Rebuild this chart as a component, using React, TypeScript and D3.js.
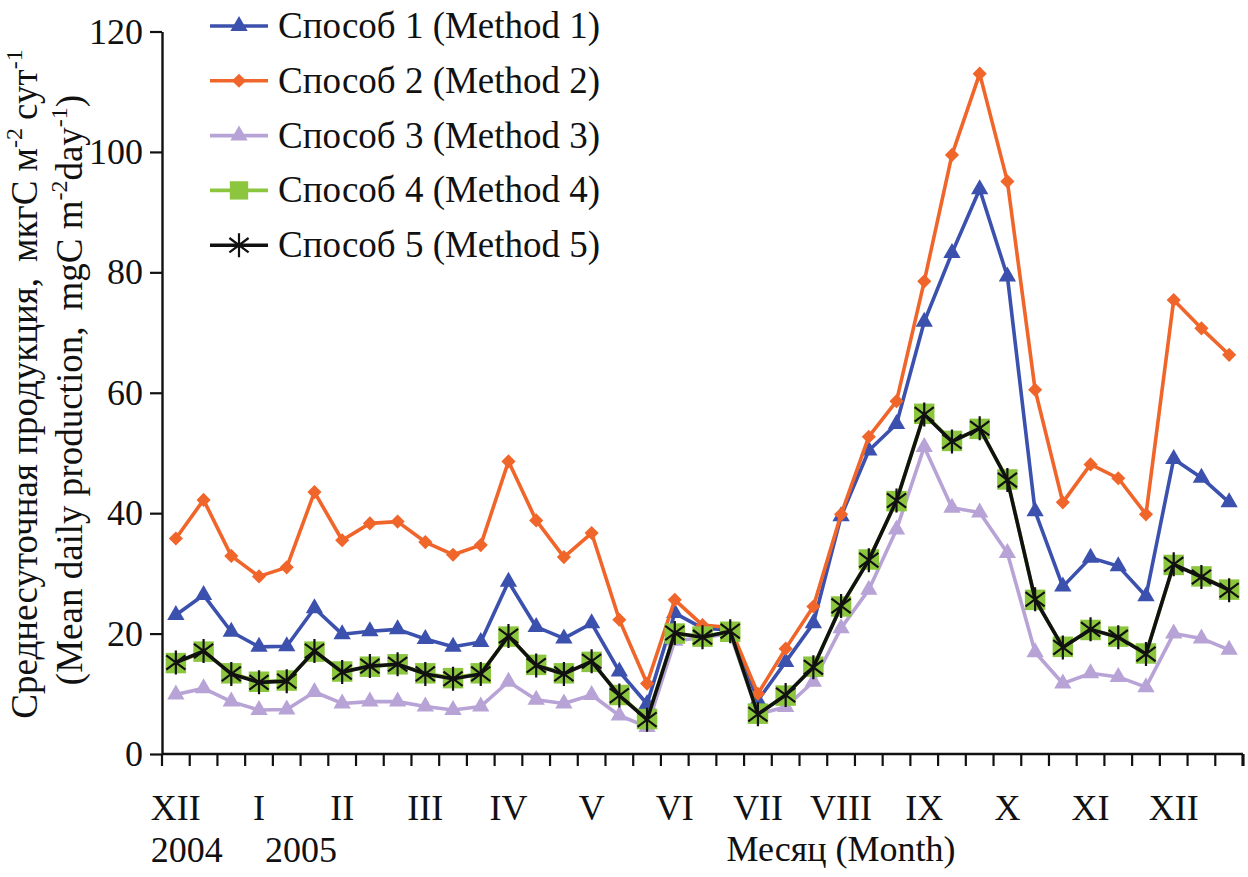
import React, { useEffect, useRef } from 'react';
import * as d3 from 'd3';

// month labels on the x axis (one label every 3 points: 3 decades per month)
const months = ['XII', 'I', 'II', 'III', 'IV', 'V', 'VI', 'VII', 'VIII', 'IX', 'X', 'XI', 'XII'];
const years = ['2004', '2005'];
const decades = ['1', '2', '3'];
const categories = months.flatMap((m, i) => decades.map(d => `${i}-${m}-${d}`));

const method1 = [23.1, 26.4, 20.3, 17.8, 17.9, 24.2, 19.9, 20.4, 20.7, 19.1, 17.8, 18.6, 28.6, 21.1, 19.2, 21.7,
  13.7, 8.3, 23.4, 20.9, 20.6, 8.9, 15.3, 21.7, 39.5, 50.4, 54.8, 71.8, 83.2, 93.8, 79.3, 40.3, 27.8, 32.6, 31.2,
  26.2, 49.0, 45.9, 41.8];
const method2 = [35.8, 42.2, 32.9, 29.5, 31.0, 43.5, 35.5, 38.3, 38.6, 35.2, 33.1, 34.7, 48.6, 38.8, 32.7, 36.7,
  22.3, 11.7, 25.6, 21.4, 21.0, 10.0, 17.5, 24.5, 39.8, 52.7, 58.6, 78.5, 99.5, 113.0, 95.1, 60.5, 41.8, 48.1, 45.8,
  39.8, 75.4, 70.7, 66.3];
const method3 = [9.9, 10.9, 8.7, 7.3, 7.4, 10.3, 8.4, 8.7, 8.7, 7.9, 7.3, 7.9, 12.0, 9.0, 8.4, 9.8,
  6.4, 4.5, 18.8, 19.3, 20.0, 6.6, 7.8, 12.0, 20.9, 27.3, 37.3, 51.0, 40.9, 40.1, 33.4, 16.9, 11.7, 13.4, 12.8,
  11.1, 20.0, 19.2, 17.3];
const method4 = [15.1, 17.0, 13.4, 12.0, 12.2, 17.0, 13.7, 14.5, 14.9, 13.4, 12.6, 13.4, 19.5, 14.8, 13.4, 15.3,
  9.8, 5.8, 20.0, 19.5, 20.3, 6.7, 9.7, 14.5, 24.5, 32.3, 42.0, 56.5, 52.0, 54.0, 45.6, 25.6, 17.8, 20.6, 19.5,
  16.7, 31.4, 29.5, 27.3];
const method5 = [15.2, 17.1, 13.3, 11.9, 12.1, 17.1, 13.6, 14.6, 14.9, 13.3, 12.5, 13.3, 19.6, 14.7, 13.3, 15.4,
  9.7, 5.7, 20.1, 19.4, 20.4, 6.6, 9.8, 14.4, 24.6, 32.2, 42.1, 56.4, 51.9, 54.1, 45.5, 25.7, 17.7, 20.7, 19.4,
  16.6, 31.5, 29.4, 27.2];

const legendNames = [
  'Способ 1 (Method 1)',
  'Способ 2 (Method 2)',
  'Способ 3 (Method 3)',
  'Способ 4 (Method 4)',
  'Способ 5 (Method 5)',
];
const yTicks = [0, 20, 40, 60, 80, 100, 120];

const series = [
  { name: legendNames[0], values: method1, color: '#3b51ad', marker: 'triangle' },
  { name: legendNames[1], values: method2, color: '#f0652a', marker: 'diamond' },
  { name: legendNames[2], values: method3, color: '#b8a3d6', marker: 'triangle' },
  { name: legendNames[3], values: method4, color: '#8cc63f', marker: 'square' },
  { name: legendNames[4], values: method5, color: '#111111', marker: 'asterisk' },
];

const FONT = '"Liberation Serif", "Times New Roman", serif';

const drawMarker = (g, type, color, x, y, scale = 1) => {
  if (type === 'triangle') {
    g.append('path')
      .attr('d', d3.symbol(d3.symbolTriangle, 130 * scale)())
      .attr('transform', `translate(${x},${y})`)
      .attr('fill', color);
  } else if (type === 'diamond') {
    g.append('path')
      .attr('d', d3.symbol(d3.symbolSquare, 100 * scale)())
      .attr('transform', `translate(${x},${y}) rotate(45)`)
      .attr('fill', color);
  } else if (type === 'square') {
    g.append('path')
      .attr('d', d3.symbol(d3.symbolSquare, 420 * scale)())
      .attr('transform', `translate(${x},${y})`)
      .attr('fill', color);
  } else {
    const r = 12 * Math.sqrt(scale);
    const a = r * 0.8;
    g.append('path')
      .attr('d', `M0,${-r}L0,${r}M${-a},${-a * 0.75}L${a},${a * 0.75}M${-a},${a * 0.75}L${a},${-a * 0.75}`)
      .attr('transform', `translate(${x},${y})`)
      .attr('stroke', color)
      .attr('stroke-width', 2.2)
      .attr('fill', 'none');
  }
};

const App = () => {
  const svgRef = useRef(null);

  useEffect(() => {
    document.body.style.margin = '0';
    const svg = d3.select(svgRef.current);
    svg.selectAll('*').remove();

    const left = 162;
    const right = 1243;
    const top = 31.5;
    const bottom = 754;

    const x = d3.scaleBand().domain(categories).range([left, right]).padding(0);
    const y = d3.scaleLinear().domain([0, 120]).range([bottom, top]);
    const cx = i => x(categories[i]) + x.bandwidth() / 2;

    // y axis
    const yAxis = d3.axisLeft(y).tickValues(yTicks).tickSize(12).tickPadding(7).tickSizeOuter(0);
    const gy = svg.append('g').attr('transform', `translate(${left},0)`).call(yAxis);
    gy.select('.domain').attr('stroke', '#111').attr('stroke-width', 2.4);
    gy.selectAll('.tick line').attr('stroke', '#111').attr('stroke-width', 2.2);
    gy.selectAll('.tick text')
      .style('font-family', FONT)
      .style('font-size', '36px')
      .attr('fill', '#111');

    // x axis line and ticks at band boundaries
    svg.append('line')
      .attr('x1', left).attr('x2', right)
      .attr('y1', bottom).attr('y2', bottom)
      .attr('stroke', '#111').attr('stroke-width', 2.4);
    svg.selectAll('.xtick')
      .data(d3.range(categories.length + 1))
      .join('line')
      .attr('class', 'xtick')
      .attr('x1', i => left + i * x.step())
      .attr('x2', i => left + i * x.step())
      .attr('y1', bottom)
      .attr('y2', bottom + 12)
      .attr('stroke', '#111')
      .attr('stroke-width', i => (i === categories.length ? 3.2 : 2.2));

    // month labels
    svg.selectAll('.month')
      .data(months)
      .join('text')
      .attr('class', 'month')
      .attr('x', (d, i) => cx(i * 3))
      .attr('y', 820)
      .attr('text-anchor', 'middle')
      .style('font-family', FONT)
      .style('font-size', '36px')
      .attr('fill', '#111')
      .text(d => d);

    svg.append('text')
      .attr('x', cx(0) - 25)
      .attr('y', 862)
      .style('font-family', FONT)
      .style('font-size', '36px')
      .attr('fill', '#111')
      .text(years[0]);
    svg.append('text')
      .attr('x', cx(3) + 6)
      .attr('y', 862)
      .style('font-family', FONT)
      .style('font-size', '36px')
      .attr('fill', '#111')
      .text(years[1]);

    svg.append('text')
      .attr('x', 841)
      .attr('y', 861)
      .attr('text-anchor', 'middle')
      .style('font-family', FONT)
      .style('font-size', '36px')
      .attr('fill', '#111')
      .text('Месяц (Month)');

    // y axis title, two rotated lines
    const yl1 = svg.append('text')
      .attr('transform', 'translate(37,384) rotate(-90)')
      .attr('text-anchor', 'middle')
      .style('font-family', FONT)
      .style('font-size', '37px')
      .attr('fill', '#111');
    yl1.append('tspan').text('Среднесуточная продукция,');
    yl1.append('tspan').attr('dx', 16).text('мкгС м');
    yl1.append('tspan').attr('dy', -15).style('font-size', '24px').text('-2');
    yl1.append('tspan').attr('dy', 15).attr('dx', 8).text('сут');
    yl1.append('tspan').attr('dy', -15).style('font-size', '24px').text('-1');

    const yl2 = svg.append('text')
      .attr('transform', 'translate(82,390) rotate(-90)')
      .attr('text-anchor', 'middle')
      .style('font-family', FONT)
      .style('font-size', '37px')
      .attr('fill', '#111');
    yl2.append('tspan').text('(Mean daily production,');
    yl2.append('tspan').attr('dx', 16).text('mgC m');
    yl2.append('tspan').attr('dy', -15).style('font-size', '24px').text('-2');
    yl2.append('tspan').attr('dy', 15).text('day');
    yl2.append('tspan').attr('dy', -15).style('font-size', '24px').text('-1');
    yl2.append('tspan').attr('dy', 15).text(')');

    // series
    const line = d3.line().x((d, i) => cx(i)).y(d => y(d));
    series.forEach(s => {
      const g = svg.append('g');
      g.append('path')
        .datum(s.values)
        .attr('d', line)
        .attr('fill', 'none')
        .attr('stroke', s.color)
        .attr('stroke-width', 3.6)
        .attr('stroke-linejoin', 'round');
      s.values.forEach((v, i) => drawMarker(g, s.marker, s.color, cx(i), y(v)));
    });

    // legend
    const lg = svg.append('g');
    series.forEach((s, k) => {
      const ly = 26 + k * 54.8;
      lg.append('line')
        .attr('x1', 210).attr('x2', 268)
        .attr('y1', ly).attr('y2', ly)
        .attr('stroke', s.color)
        .attr('stroke-width', 3.6);
      drawMarker(lg, s.marker, s.color, 239, ly, s.marker === 'square' ? 0.8 : 1);
      lg.append('text')
        .attr('x', 278)
        .attr('y', ly + 12)
        .style('font-family', FONT)
        .style('font-size', '37px')
        .attr('fill', '#111')
        .text(s.name);
    });
  }, []);

  return <svg ref={svgRef} width={1248} height={877} style={{ display: 'block', background: '#fff' }} />;
};

export default App;
